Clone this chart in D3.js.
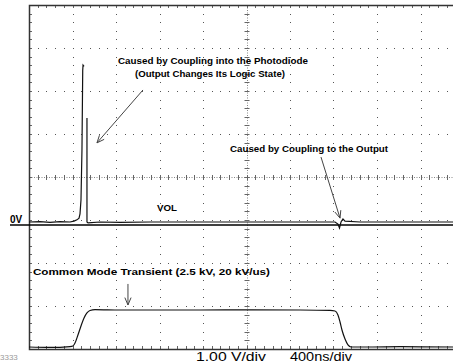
<!DOCTYPE html>
<html>
<head>
<meta charset="utf-8">
<title>Common mode transient capture</title>
<script src="https://cdn.jsdelivr.net/npm/d3@7/dist/d3.min.js"></script>
<style>
  body { margin: 0; background: #fff; }
  svg { display: block; }
  .note { font-family: "Liberation Sans", Arial, sans-serif; font-weight: bold; font-size: 9.5px; fill: #000; }
  .scale { font-family: "Liberation Sans", Arial, sans-serif; font-size: 13px; fill: #000; }
</style>
</head>
<body>
<script>
// output channel: time in ns (400 ns/div), level in V (1 V/div, 0V marker)
var outT = [0, 101, 193, 285, 377, 414, 441, 460, 469, 478, 487, 494, 497, 506, 520, 533, 533, 543, 653, 837, 1113, 1572, 2032, 2492, 2814, 2841, 2855, 2869, 2887, 2906, 3044, 3412, 3899, 4000];
var outV = [0.07, 0.08, 0.06, 0.08, 0.07, 0.09, 0.12, 0.16, 0.26, 0.58, 1.74, 3.60, 3.72, 3.69, NaN, 2.49, 0.07, 0.05, 0.07, 0.06, 0.07, 0.07, 0.07, 0.07, 0.07, 0.02, -0.07, 0.07, 0.14, 0.09, 0.07, 0.07, 0.07, 0.07];

// common mode channel: level in kV
var cmT = [0, 193, 377, 404, 423, 450, 478, 506, 533, 561, 607, 837, 1113, 1572, 2032, 2492, 2768, 2814, 2841, 2860, 2878, 2906, 2933, 2961, 3136, 3412, 3899, 4000];
var cmKV = [0, -0.03, 0.03, 0.07, 0.27, 0.81, 1.42, 1.96, 2.30, 2.47, 2.53, 2.50, 2.50, 2.50, 2.51, 2.50, 2.47, 2.43, 2.16, 1.69, 1.15, 0.54, 0.14, 0, 0, 0.02, 0, 0];

var scaleLabels = ["1.00 V/div", "400ns/div"];

var width = 453, height = 363;

var x = d3.scaleLinear().domain([0, 4000]).range([29, 464]);
var yDiv = d3.scaleLinear().domain([-4, 4]).range([349, 5]);
var yVolt = d3.scaleLinear().domain([0, 1]).range([225, 182]);
var yCm = d3.scaleLinear().domain([0, 2.5]).range([347, 310]);

var svg = d3.select("body").append("svg")
    .attr("width", width)
    .attr("height", height);

var px = function(v) { return Math.round(v) + 0.5; };

// ---- graticule ----
var grid = svg.append("g");
var minorT = d3.range(0, 4001, 80);
var minorD = d3.range(-4, 4.001, 0.2);
var majorT = d3.range(400, 4000, 400).filter(function(t) { return t !== 2000; });
var majorD = [-3, -2, -1, 1, 2, 3];

majorT.forEach(function(t) {
    grid.selectAll(null)
        .data(minorD)
      .enter().append("rect")
        .attr("x", Math.round(x(t)))
        .attr("y", function(d) { return Math.round(yDiv(d)); })
        .attr("width", 1).attr("height", 1)
        .attr("fill", "#555");
});
majorD.forEach(function(dv) {
    grid.selectAll(null)
        .data(minorT)
      .enter().append("rect")
        .attr("x", function(t) { return Math.round(x(t)); })
        .attr("y", Math.round(yDiv(dv)))
        .attr("width", 1).attr("height", 1)
        .attr("fill", "#555");
});

// centre axes with minor ticks
grid.append("line")
    .attr("x1", x(0)).attr("x2", width)
    .attr("y1", px(yDiv(0))).attr("y2", px(yDiv(0)))
    .attr("stroke", "#888").attr("stroke-dasharray", "1,1.5");
grid.append("line")
    .attr("x1", px(x(2000))).attr("x2", px(x(2000)))
    .attr("y1", yDiv(4)).attr("y2", yDiv(-4))
    .attr("stroke", "#888").attr("stroke-dasharray", "1,1.5");
grid.selectAll(null)
    .data(minorT)
  .enter().append("line")
    .attr("x1", function(t) { return px(x(t)); })
    .attr("x2", function(t) { return px(x(t)); })
    .attr("y1", yDiv(0) - 2).attr("y2", yDiv(0) + 3)
    .attr("stroke", "#666");
grid.selectAll(null)
    .data(minorD)
  .enter().append("line")
    .attr("y1", function(d) { return px(yDiv(d)); })
    .attr("y2", function(d) { return px(yDiv(d)); })
    .attr("x1", x(2000) - 2).attr("x2", x(2000) + 3)
    .attr("stroke", "#666");

// frame ticks
grid.selectAll(null)
    .data(minorT)
  .enter().append("line")
    .attr("x1", function(t) { return px(x(t)); })
    .attr("x2", function(t) { return px(x(t)); })
    .attr("y1", yDiv(4)).attr("y2", yDiv(4) + 3)
    .attr("stroke", "#666");
grid.selectAll(null)
    .data(minorT)
  .enter().append("line")
    .attr("x1", function(t) { return px(x(t)); })
    .attr("x2", function(t) { return px(x(t)); })
    .attr("y1", yDiv(-4)).attr("y2", yDiv(-4) - 3)
    .attr("stroke", "#666");
grid.selectAll(null)
    .data(minorD)
  .enter().append("line")
    .attr("y1", function(d) { return px(yDiv(d)); })
    .attr("y2", function(d) { return px(yDiv(d)); })
    .attr("x1", x(0)).attr("x2", x(0) + 3)
    .attr("stroke", "#666");

// frame
svg.append("path")
    .attr("d", "M" + width + "," + px(yDiv(4)) + "H" + px(x(0)) + "V" + px(yDiv(-4)) + "H" + width)
    .attr("fill", "none")
    .attr("stroke", "#333")
    .attr("stroke-width", 1.5);

// 0V marker
svg.append("line")
    .attr("x1", 10).attr("x2", width)
    .attr("y1", yVolt(0)).attr("y2", yVolt(0))
    .attr("stroke", "#000").attr("stroke-width", 1.5);
svg.append("text")
    .attr("class", "note")
    .attr("x", 10).attr("y", yVolt(0) - 2)
    .style("font-size", "10px")
    .text("0V");

// ---- traces ----
var outLine = d3.line()
    .defined(function(d) { return !isNaN(d[1]); })
    .x(function(d) { return x(d[0]); })
    .y(function(d) { return yVolt(d[1]); });
svg.append("path")
    .datum(d3.zip(outT, outV))
    .attr("d", outLine)
    .attr("fill", "none")
    .attr("stroke", "#111")
    .attr("stroke-width", 1.2);

var cmLine = d3.line()
    .curve(d3.curveMonotoneX)
    .x(function(d) { return x(d[0]); })
    .y(function(d) { return yCm(d[1]); });
svg.append("path")
    .datum(d3.zip(cmT, cmKV))
    .attr("d", cmLine)
    .attr("fill", "none")
    .attr("stroke", "#111")
    .attr("stroke-width", 1.2);

// ---- annotations ----
function arrow(x0, y0, x1, y1) {
    var a = Math.atan2(y1 - y0, x1 - x0), L = 8, s = 0.4;
    var g = svg.append("g").attr("stroke", "#444").attr("fill", "none");
    g.append("line").attr("x1", x0).attr("y1", y0).attr("x2", x1).attr("y2", y1);
    g.append("path").attr("d",
        "M" + (x1 - L * Math.cos(a - s)) + "," + (y1 - L * Math.sin(a - s)) +
        "L" + x1 + "," + y1 +
        "L" + (x1 - L * Math.cos(a + s)) + "," + (y1 - L * Math.sin(a + s)));
}

function note(str, cx, cy, w) {
    svg.append("text")
        .attr("class", "note")
        .attr("x", cx).attr("y", cy)
        .attr("text-anchor", "middle")
        .attr("textLength", w)
        .attr("lengthAdjust", "spacingAndGlyphs")
        .text(str);
}

note("Caused by Coupling into the Photodiode", x(1692), yVolt(3.74), 190);
note("(Output Changes Its Logic State)", x(1664), yVolt(3.44), 150);
arrow(x(1048), yVolt(3.14), x(625), yVolt(1.91));

note("Caused by Coupling to the Output", x(2575), yVolt(1.70), 158);
arrow(x(2685), yVolt(1.58), x(2860), yVolt(0.16));

note("VOL", x(1269), yVolt(0.33), 20);

note("Common Mode Transient (2.5 kV, 20 kV/us)", x(1126), yCm(4.86), 237);
arrow(x(910), yCm(4.26), x(910), yCm(2.84));

// channel / timebase readout
svg.append("text").attr("class", "scale")
    .attr("x", 196).attr("y", 361)
    .attr("textLength", 70).attr("lengthAdjust", "spacingAndGlyphs")
    .text(scaleLabels[0]);
svg.append("text").attr("class", "scale")
    .attr("x", 290).attr("y", 361)
    .attr("textLength", 62).attr("lengthAdjust", "spacingAndGlyphs")
    .text(scaleLabels[1]);

svg.append("text")
    .attr("x", 0).attr("y", 360)
    .style("font-family", "Liberation Sans, Arial, sans-serif")
    .style("font-size", "8px").style("fill", "#999")
    .text("3333");
</script>
</body>
</html>
